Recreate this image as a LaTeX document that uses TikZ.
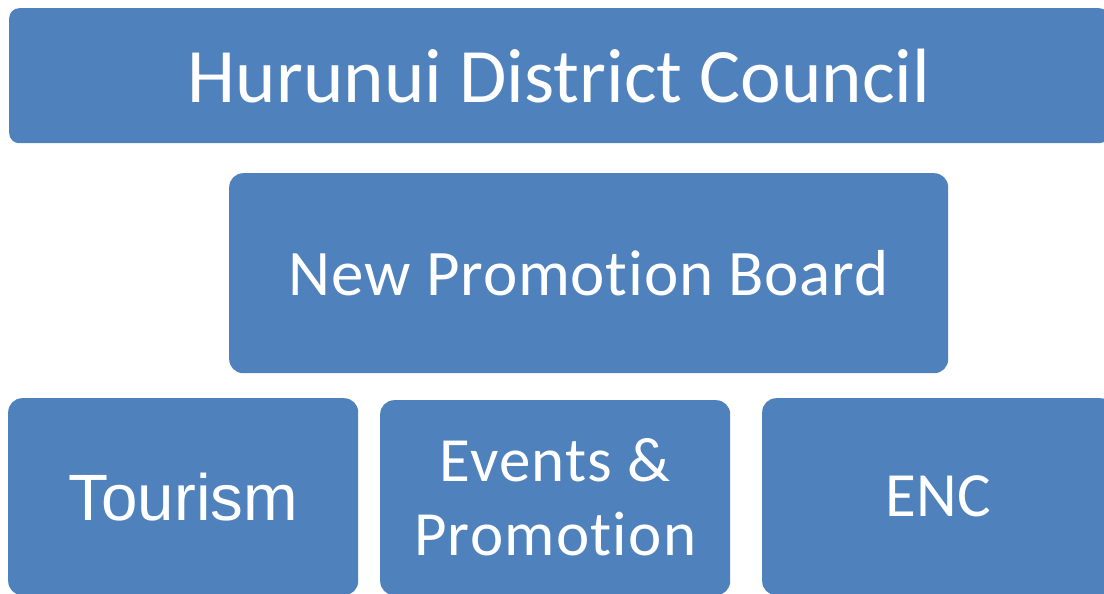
\documentclass[tikz,border=0pt]{standalone}
\usepackage{fontspec}
\setmainfont[Ligatures=NoCommon]{Carlito}
\newfontfamily\arialfont{Liberation Sans}
\definecolor{boxblue}{HTML}{4F81BD}
\tikzset{
  orgbox/.style={fill=boxblue, text=white, rounded corners=14pt,
    inner sep=0pt, anchor=north west, align=center},
}
\begin{document}
\begin{tikzpicture}[x=1pt,y=-1pt]
\useasboundingbox (0,0) rectangle (1104,594);
\clip (0,0) rectangle (1104,594);
% top level
\node[orgbox, rounded corners=10pt, minimum width=1100pt, minimum height=135pt,
  font=\fontsize{77}{80}\selectfont] (council) at (9,8) {Hurunui District Council};
% board
\node[orgbox, minimum width=719pt, minimum height=200pt,
  font=\addfontfeature{LetterSpace=1.2}\fontsize{65}{70}\selectfont] (board) at (229,173) {New Promotion Board};
% the three groups under the board
\node[orgbox, minimum width=350pt, minimum height=197pt,
  font=\arialfont\fontsize{65.5}{70}\selectfont] (tourism) at (8,398) {Tourism};
\node[orgbox, minimum width=350pt, minimum height=195pt,
  font=\addfontfeature{LetterSpace=2}\fontsize{63}{74}\selectfont] (events) at (380,400) {Events \&\\Promotion};
\node[orgbox, minimum width=352pt, minimum height=197pt,
  font=\fontsize{63}{70}\selectfont] (enc) at (762,398) {ENC};
\end{tikzpicture}
\end{document}
